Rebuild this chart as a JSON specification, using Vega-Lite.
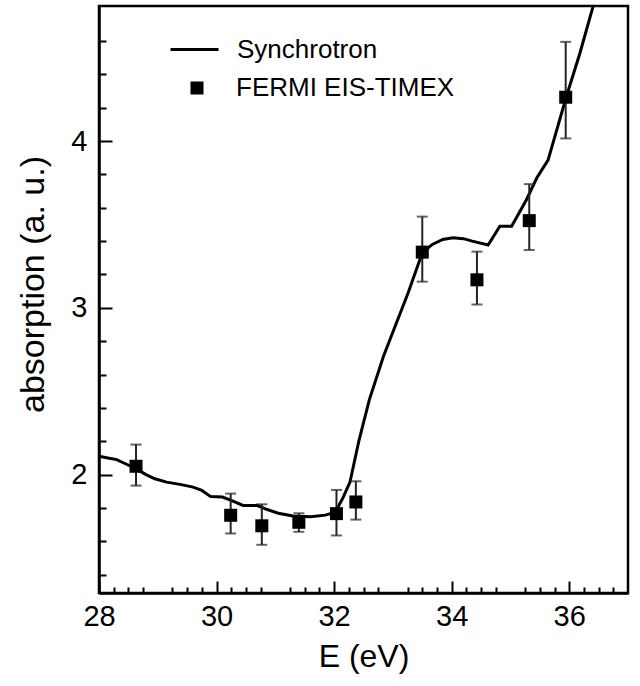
{
  "$schema": "https://vega.github.io/schema/vega-lite/v6.json",
  "width": 529,
  "height": 587,
  "autosize": {"type": "none"},
  "padding": {"left": 99, "top": 6, "right": 12, "bottom": 93},
  "config": {
    "font": "Liberation Sans",
    "view": {"stroke": "black", "strokeWidth": 2.5},
    "axis": {
      "grid": false,
      "labelFont": "Liberation Sans",
      "titleFont": "Liberation Sans",
      "labelColor": "black",
      "titleColor": "black",
      "tickColor": "black",
      "domainColor": "black",
      "domainWidth": 2.5,
      "tickWidth": 2,
      "labelFontSize": 29,
      "titleFontSize": 32,
      "titleFontWeight": "normal",
      "labelFlush": false
    }
  },
  "datasets": {
    "synchrotron": [
      {"E": 28.00, "A": 2.11}, {"E": 28.15, "A": 2.10}, {"E": 28.30, "A": 2.09},
      {"E": 28.45, "A": 2.065}, {"E": 28.60, "A": 2.04}, {"E": 28.80, "A": 2.00},
      {"E": 28.95, "A": 1.975}, {"E": 29.15, "A": 1.955}, {"E": 29.40, "A": 1.94},
      {"E": 29.60, "A": 1.925}, {"E": 29.75, "A": 1.905}, {"E": 29.90, "A": 1.868},
      {"E": 30.10, "A": 1.865}, {"E": 30.25, "A": 1.845}, {"E": 30.45, "A": 1.815},
      {"E": 30.70, "A": 1.814}, {"E": 30.85, "A": 1.792}, {"E": 31.05, "A": 1.768},
      {"E": 31.30, "A": 1.752}, {"E": 31.60, "A": 1.747}, {"E": 31.85, "A": 1.757},
      {"E": 32.02, "A": 1.775}, {"E": 32.15, "A": 1.86}, {"E": 32.27, "A": 1.955},
      {"E": 32.42, "A": 2.2}, {"E": 32.60, "A": 2.45}, {"E": 32.84, "A": 2.71},
      {"E": 33.05, "A": 2.9}, {"E": 33.26, "A": 3.09}, {"E": 33.50, "A": 3.33},
      {"E": 33.67, "A": 3.38}, {"E": 33.85, "A": 3.41}, {"E": 34.02, "A": 3.42},
      {"E": 34.20, "A": 3.415}, {"E": 34.35, "A": 3.40}, {"E": 34.62, "A": 3.377},
      {"E": 34.82, "A": 3.49}, {"E": 35.02, "A": 3.49}, {"E": 35.27, "A": 3.647},
      {"E": 35.45, "A": 3.78}, {"E": 35.64, "A": 3.886}, {"E": 35.95, "A": 4.265},
      {"E": 36.18, "A": 4.525}, {"E": 36.40, "A": 4.80}, {"E": 36.50, "A": 4.92}
    ],
    "fermi": [
      {"E": 28.63, "A": 2.05, "lo": 1.934, "hi": 2.18, "series": "FERMI EIS-TIMEX"},
      {"E": 30.24, "A": 1.756, "lo": 1.647, "hi": 1.886, "series": "FERMI EIS-TIMEX"},
      {"E": 30.77, "A": 1.693, "lo": 1.579, "hi": 1.822, "series": "FERMI EIS-TIMEX"},
      {"E": 31.40, "A": 1.714, "lo": 1.657, "hi": 1.768, "series": "FERMI EIS-TIMEX"},
      {"E": 32.04, "A": 1.766, "lo": 1.635, "hi": 1.908, "series": "FERMI EIS-TIMEX"},
      {"E": 32.37, "A": 1.836, "lo": 1.73, "hi": 1.96, "series": "FERMI EIS-TIMEX"},
      {"E": 33.50, "A": 3.334, "lo": 3.157, "hi": 3.547, "series": "FERMI EIS-TIMEX"},
      {"E": 34.43, "A": 3.168, "lo": 3.02, "hi": 3.337, "series": "FERMI EIS-TIMEX"},
      {"E": 35.32, "A": 3.523, "lo": 3.347, "hi": 3.742, "series": "FERMI EIS-TIMEX"},
      {"E": 35.94, "A": 4.263, "lo": 4.016, "hi": 4.595, "series": "FERMI EIS-TIMEX"}
    ]
  },
  "resolve": {"axis": {"x": "independent", "y": "independent"}},
  "layer": [
    {
      "data": {"name": "synchrotron"},
      "mark": {"type": "line", "strokeWidth": 3, "clip": true},
      "encoding": {
        "x": {
          "field": "E", "type": "quantitative",
          "scale": {"domain": [28, 37], "nice": false, "zero": false},
          "axis": {
            "orient": "bottom", "values": [28, 30, 32, 34, 36], "ticks": false,
            "labelPadding": 9, "title": "E (eV)", "titlePadding": 10
          }
        },
        "y": {
          "field": "A", "type": "quantitative",
          "scale": {"domain": [1.29, 4.81], "nice": false, "zero": false},
          "axis": {
            "orient": "left", "values": [2, 3, 4], "ticks": false,
            "labelPadding": 12, "title": "absorption (a. u.)", "titlePadding": 20,
            "titleFontSize": 34, "titleY": 278
          }
        },
        "color": {
          "datum": "Synchrotron", "type": "nominal",
          "scale": {"range": ["black"]},
          "legend": {
            "title": null,
            "orient": "none",
            "legendX": 70,
            "legendY": 18,
            "padding": 0,
            "labelFont": "Liberation Sans",
            "labelFontSize": 26,
            "labelColor": "black",
            "labelLimit": 400,
            "labelOffset": 17,
            "symbolType": "stroke",
            "symbolSize": 2304,
            "symbolStrokeWidth": 3,
            "symbolStrokeColor": "black"
          }
        }
      }
    },
    {
      "data": {"name": "fermi"},
      "mark": {
        "type": "errorbar",
        "rule": {"strokeWidth": 2, "color": "#222"},
        "ticks": {"size": 11, "thickness": 2, "color": "#222"}
      },
      "encoding": {
        "x": {
          "field": "E", "type": "quantitative",
          "axis": {
            "orient": "bottom", "labels": false, "title": null, "domain": false, "tickSize": -6,
            "values": [28.25, 28.5, 28.75, 29.25, 29.5, 29.75, 30.25, 30.5, 30.75, 31.25, 31.5, 31.75, 32.25, 32.5, 32.75, 33.25, 33.5, 33.75, 34.25, 34.5, 34.75, 35.25, 35.5, 35.75, 36.25, 36.5, 36.75]
          }
        },
        "y": {
          "field": "lo", "type": "quantitative",
          "axis": {
            "orient": "left", "labels": false, "title": null, "domain": false, "tickSize": -7,
            "values": [1.4, 1.6, 1.8, 2.2, 2.4, 2.6, 2.8, 3.2, 3.4, 3.6, 3.8, 4.2, 4.4, 4.6]
          }
        },
        "y2": {"field": "hi"}
      }
    },
    {
      "data": {"name": "fermi"},
      "mark": {"type": "point", "filled": true, "color": "black", "size": 169, "opacity": 1},
      "encoding": {
        "x": {
          "field": "E", "type": "quantitative",
          "axis": {
            "orient": "bottom", "labels": false, "title": null, "domain": false, "tickSize": -12,
            "values": [28, 30, 32, 34, 36]
          }
        },
        "y": {
          "field": "A", "type": "quantitative",
          "axis": {
            "orient": "left", "labels": false, "title": null, "domain": false, "tickSize": -13,
            "values": [2, 3, 4]
          }
        },
        "shape": {
          "field": "series", "type": "nominal",
          "scale": {"domain": ["FERMI EIS-TIMEX"], "range": ["square"]},
          "legend": {
            "title": null,
            "orient": "none",
            "legendX": 85,
            "legendY": 69,
            "padding": 0,
            "labelFont": "Liberation Sans",
            "labelFontSize": 26,
            "labelColor": "black",
            "labelLimit": 400,
            "labelOffset": 26,
            "symbolSize": 169,
            "symbolFillColor": "black",
            "symbolStrokeWidth": 0,
            "symbolOpacity": 1
          }
        }
      }
    }
  ]
}
